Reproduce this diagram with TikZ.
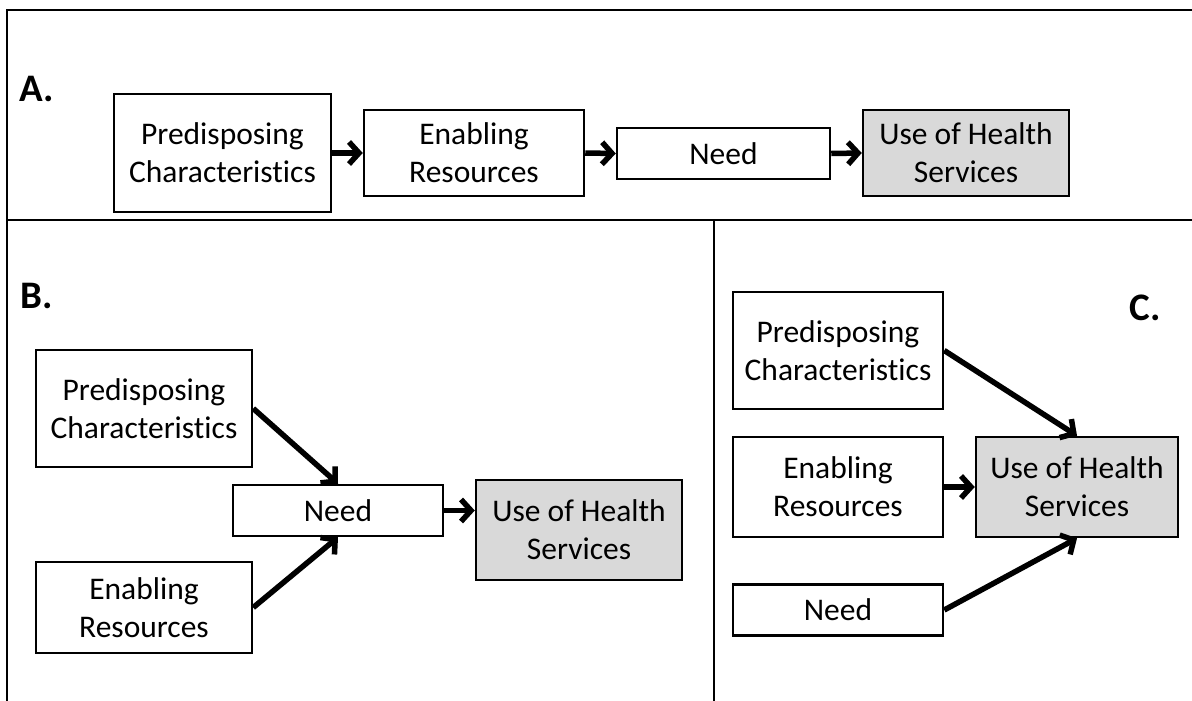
\documentclass[tikz,border=0pt]{standalone}
\usepackage{fontspec}
\setmainfont{Carlito}[Ligatures=NoCommon]
\usetikzlibrary{arrows.meta}
\begin{document}
\begin{tikzpicture}[x=1pt,y=-1pt,
  box/.style={draw=black, line width=2.5pt, align=center, inner sep=0pt,
    font=\fontsize{31.5}{38}\selectfont},
  use/.style={box, fill=gray!30},
  frame/.style={line width=2pt},
  conn/.style={line width=5.5pt, -{Straight Barb[length=10pt,width=22pt]}},
  lab/.style={font=\fontsize{39}{40}\selectfont\bfseries, inner sep=0pt}
]
\useasboundingbox (0,0) rectangle (1192,701);
% frame
\coordinate (f1) at (7,701);
\coordinate (f2) at (7,10);
\coordinate (f3) at (1192,10);
\coordinate (d1) at (7,220);
\coordinate (d2) at (1192,220);
\coordinate (v1) at (714,220);
\coordinate (v2) at (714,701);
\draw[frame] (f1) -- (f2) -- (f3);
\draw[frame] (d1) -- (d2);
\draw[frame] (v1) -- (v2);
% labels
\node[lab] (la) at (37,89) {A.};
\node[lab] (lb) at (37,296) {B.};
\node[lab] (lc) at (1145,308) {C.};
% panel A
\node[box, minimum width=217pt, minimum height=118pt] (pa) at (222.5,153) {Predisposing\\Characteristics};
\node[box, minimum width=220pt, minimum height=86pt] (ea) at (474,153) {Enabling\\Resources};
\node[box, minimum width=213pt, minimum height=51pt] (na) at (723.5,153.5) {Need};
\node[use, minimum width=206pt, minimum height=86pt] (ua) at (966,153) {Use of Health\\Services};
\draw[conn] (pa.east) -- (ea.west);
\draw[conn] (ea.east) -- (na.west);
\draw[conn] (na.east) -- (ua.west);
% panel B
\node[box, minimum width=216pt, minimum height=117pt] (pb) at (144,408.5) {Predisposing\\Characteristics};
\node[box, minimum width=216pt, minimum height=91pt] (eb) at (144,607.5) {Enabling\\Resources};
\node[box, minimum width=210pt, minimum height=51pt] (nb) at (338,510.5) {Need};
\node[use, minimum width=206pt, minimum height=100pt] (ub) at (579,530) {Use of Health\\Services};
\draw[conn] (pb.east) -- (nb.north);
\draw[conn] (eb.east) -- (nb.south);
\draw[conn] (nb.east) -- (nb.east -| ub.west);
% panel C
\node[box, minimum width=210pt, minimum height=117pt] (pc) at (838,350.5) {Predisposing\\Characteristics};
\node[box, minimum width=210pt, minimum height=100pt] (ec) at (838,487) {Enabling\\Resources};
\node[box, minimum width=210pt, minimum height=51pt] (nc) at (838,610) {Need};
\node[use, minimum width=202pt, minimum height=100pt] (uc) at (1077,487) {Use of Health\\Services};
\draw[conn] (pc.east) -- (uc.north);
\draw[conn] (ec.east) -- (uc.west);
\draw[conn] (nc.east) -- (uc.south);
\end{tikzpicture}
\end{document}
